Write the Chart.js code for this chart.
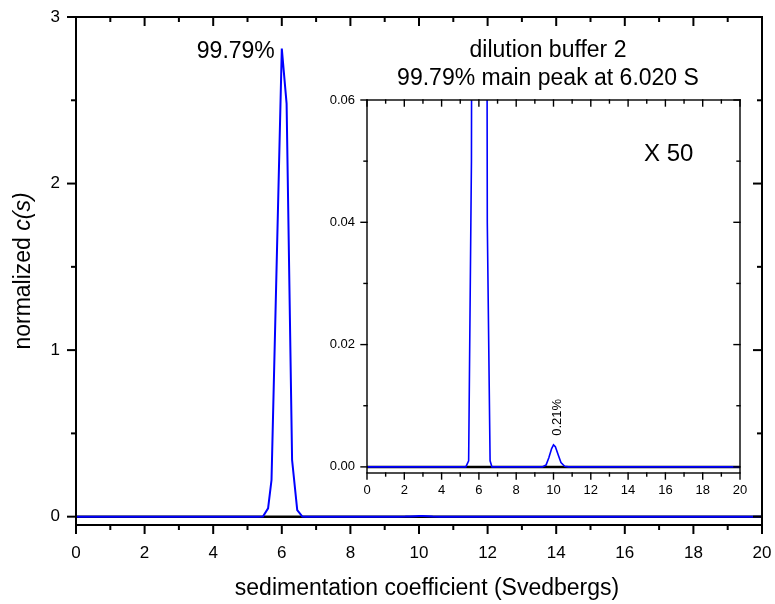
<!DOCTYPE html>
<html>
<head>
<meta charset="utf-8">
<script src="https://cdn.jsdelivr.net/npm/chart.js@4.4.0/dist/chart.umd.min.js"></script>
<style>
  body { margin: 0; background: #fff; }
  #wrap { position: relative; width: 775px; height: 604px; }
  #mainChart { position: absolute; left: 0; top: 0; }
  #insetChart { position: absolute; left: 300px; top: 60px; }
</style>
</head>
<body>
<div id="wrap">
  <canvas id="mainChart" width="775" height="604"></canvas>
  <canvas id="insetChart" width="460" height="450"></canvas>
</div>
<script>
// sedimentation coefficient (S) and normalized c(s)
const sedCoef = [0, 5.3, 5.45, 5.6, 5.7, 6.0, 6.14, 6.3, 6.45, 6.6, 6.7,
                 9.4, 9.6, 9.75, 9.9, 10.0, 10.1, 10.25, 10.4, 10.6, 10.8, 20];
const normC = [0, 0, 0.001, 0.05, 0.22, 2.81, 2.48, 0.34, 0.04, 0.001, 0,
               0, 0.0003, 0.0015, 0.003, 0.0036, 0.0033, 0.002, 0.0007, 0.0001, 0, 0];
const zeroS = [0, 20];
const zeroC = [0, 0];

const xTicks = [0, 2, 4, 6, 8, 10, 12, 14, 16, 18, 20];
const yTicksMain = [0, 1, 2, 3];
const yTicksInset = [0, 0.02, 0.04, 0.06];

const mainPeakLabel = '99.79%';
const minorPeakLabel = '0.21%';
const insetTitle = ['dilution buffer 2', '99.79% main peak at 6.020 S'];
const zoomLabel = 'X 50';

const FONT = "'Liberation Sans', Arial, Helvetica, sans-serif";
Chart.defaults.font.family = FONT;
Chart.defaults.color = '#000';

const points = (xs, ys) => xs.map((x, i) => ({ x: x, y: ys[i] }));

// frame + ticks in Origin style: out on bottom/left, in on top/right
const frameTicks = {
    id: 'frameTicks',
    afterDraw(chart, args, o) {
        const { ctx, chartArea: a, scales: { x, y } } = chart;
        ctx.save();
        ctx.strokeStyle = '#000';
        ctx.lineWidth = o.lineWidth;
        ctx.lineCap = 'square';
        ctx.strokeRect(a.left, a.top, a.right - a.left, a.bottom - a.top);
        const seg = (x0, y0, x1, y1) => {
            ctx.beginPath(); ctx.moveTo(x0, y0); ctx.lineTo(x1, y1); ctx.stroke();
        };
        let n = Math.round((o.xTo - o.xFrom) / o.xMinor);
        let every = Math.round(o.xMajor / o.xMinor);
        for (let i = 0; i <= n; i++) {
            const px = x.getPixelForValue(o.xFrom + i * o.xMinor);
            const len = i % every === 0 ? o.major : o.minor;
            seg(px, a.bottom, px, a.bottom + len);
            seg(px, a.top, px, a.top + len);
        }
        n = Math.round((o.yTo - o.yFrom) / o.yMinor);
        every = Math.round(o.yMajor / o.yMinor);
        for (let i = 0; i <= n; i++) {
            const py = y.getPixelForValue(o.yFrom + i * o.yMinor);
            const len = i % every === 0 ? o.major : o.minor;
            seg(a.left, py, a.left - len, py);
            seg(a.right, py, a.right - len, py);
        }
        ctx.restore();
    }
};

const fixTicks = (list) => (scale) => { scale.ticks = list.map(v => ({ value: v })); };
const fitX = (h) => (s) => { s.height = h; s.paddingLeft = 0; s.paddingRight = 0; };
const fitY = (w) => (s) => { s.width = w; s.paddingTop = 0; s.paddingBottom = 0; };

// ---------- main chart ----------
const mainLabels = {
    id: 'mainLabels',
    afterDraw(chart) {
        const { ctx, chartArea: a, scales: { x, y } } = chart;
        ctx.save();
        ctx.fillStyle = '#000';
        ctx.textBaseline = 'alphabetic';
        // peak label
        ctx.font = '23px ' + FONT;
        ctx.textAlign = 'right';
        ctx.fillText(mainPeakLabel, x.getPixelForValue(6) - 7, y.getPixelForValue(2.81) + 9);
        // inset title
        ctx.textAlign = 'center';
        ctx.fillText(insetTitle[0], 548, 57);
        ctx.fillText(insetTitle[1], 548, 85);
        ctx.font = '24px ' + FONT;
        ctx.textAlign = 'left';
        ctx.fillText(zoomLabel, 644, 161);
        // x title
        ctx.font = '23px ' + FONT;
        ctx.textAlign = 'center';
        ctx.fillText('sedimentation coefficient (Svedbergs)', 427, 595);
        // y title with italic c(s)
        const p1 = 'normalized ', p2 = 'c(s)';
        const w1 = ctx.measureText(p1).width;
        ctx.font = 'italic 23px ' + FONT;
        const w2 = ctx.measureText(p2).width;
        ctx.translate(30, (a.top + a.bottom) / 2);
        ctx.rotate(-Math.PI / 2);
        ctx.textAlign = 'left';
        ctx.font = '23px ' + FONT;
        ctx.fillText(p1, -(w1 + w2) / 2, 0);
        ctx.font = 'italic 23px ' + FONT;
        ctx.fillText(p2, -(w1 + w2) / 2 + w1, 0);
        ctx.restore();
    }
};

new Chart(document.getElementById('mainChart'), {
    type: 'line',
    data: {
        datasets: [{
            data: points(sedCoef, normC),
            borderColor: '#0000ff',
            borderWidth: 2,
            pointRadius: 0,
            tension: 0
        }, {
            data: points(zeroS, zeroC),
            borderColor: '#000',
            borderWidth: 2.5,
            pointRadius: 0
        }]
    },
    options: {
        responsive: false,
        animation: false,
        layout: { padding: { top: 17, right: 13, left: 0, bottom: 0 } },
        plugins: {
            legend: { display: false },
            tooltip: { enabled: false },
            frameTicks: { lineWidth: 2, major: 8, minor: 4,
                xFrom: 0, xTo: 20, xMinor: 1, xMajor: 2,
                yFrom: 0, yTo: 3, yMinor: 0.5, yMajor: 1 }
        },
        scales: {
            x: {
                type: 'linear', min: 0, max: 20,
                afterBuildTicks: fixTicks(xTicks),
                afterFit: fitX(79),
                grid: { display: false, drawTicks: false },
                border: { display: false },
                ticks: { font: { size: 17 }, padding: 18, maxRotation: 0 }
            },
            y: {
                type: 'linear', min: -0.05, max: 3,
                afterBuildTicks: fixTicks(yTicksMain),
                afterFit: fitY(76),
                grid: { display: false, drawTicks: false },
                border: { display: false },
                ticks: { font: { size: 17 }, padding: 16 }
            }
        }
    },
    plugins: [frameTicks, mainLabels]
});

// ---------- inset chart (X 50) ----------
const insetLabels = {
    id: 'insetLabels',
    afterDraw(chart) {
        const { ctx, scales: { x, y } } = chart;
        ctx.save();
        ctx.fillStyle = '#000';
        ctx.font = '13px ' + FONT;
        ctx.textAlign = 'center';
        ctx.textBaseline = 'middle';
        ctx.translate(x.getPixelForValue(10) + 4, y.getPixelForValue(0.0081));
        ctx.rotate(-Math.PI / 2);
        ctx.fillText(minorPeakLabel, 0, 0);
        ctx.restore();
    }
};

new Chart(document.getElementById('insetChart'), {
    type: 'line',
    data: {
        datasets: [{
            data: points(sedCoef, normC),
            borderColor: '#0000ff',
            borderWidth: 1.6,
            pointRadius: 0,
            tension: 0
        }, {
            data: points(zeroS, zeroC),
            borderColor: '#000',
            borderWidth: 2.5,
            pointRadius: 0
        }]
    },
    options: {
        responsive: false,
        animation: false,
        layout: { padding: { top: 40, right: 20, left: 0, bottom: 0 } },
        plugins: {
            legend: { display: false },
            tooltip: { enabled: false },
            frameTicks: { lineWidth: 1.4, major: 6, minor: 3,
                xFrom: 0, xTo: 20, xMinor: 1, xMajor: 2,
                yFrom: 0, yTo: 0.06, yMinor: 0.01, yMajor: 0.02 }
        },
        scales: {
            x: {
                type: 'linear', min: 0, max: 20,
                afterBuildTicks: fixTicks(xTicks),
                afterFit: fitX(37),
                grid: { display: false, drawTicks: false },
                border: { display: false },
                ticks: { font: { size: 13 }, padding: 10, maxRotation: 0 }
            },
            y: {
                type: 'linear', min: -0.001, max: 0.06,
                afterBuildTicks: fixTicks(yTicksInset),
                afterFit: fitY(67),
                grid: { display: false, drawTicks: false },
                border: { display: false },
                ticks: { font: { size: 13 }, padding: 12,
                    callback: (v) => v.toFixed(2) }
            }
        }
    },
    plugins: [frameTicks, insetLabels]
});
</script>
</body>
</html>
